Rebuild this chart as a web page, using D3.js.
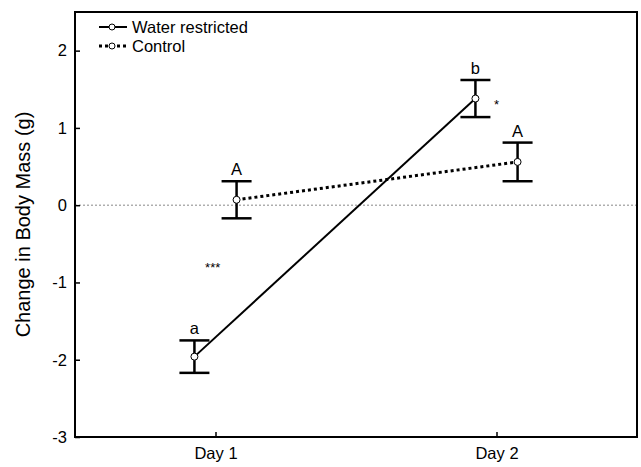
<!DOCTYPE html>
<meta charset="utf-8">
<title>Change in Body Mass</title>
<script src="https://cdn.jsdelivr.net/npm/d3@7"></script>
<style>
  body { margin: 0; background: #fff; }
  text { font-family: "Liberation Sans", Arial, sans-serif; fill: #000; }
</style>
<body>
<svg></svg>
<script>
// data
var days = ["Day 1", "Day 2"];
var waterMean = [-1.96, 1.38];
var waterSE = [0.21, 0.24];
var waterLetters = ["a", "b"];
var controlMean = [0.07, 0.56];
var controlSE = [0.24, 0.25];
var controlLetters = ["A", "A"];
var yTicks = [-3, -2, -1, 0, 1, 2];

var width = 641,
    height = 467;

var margin = {top: 12, right: 4, bottom: 30, left: 75};

var svg = d3.select("svg")
    .attr("width", width)
    .attr("height", height);

var x = d3.scaleLinear()
    .domain([0.5, 2.5])
    .range([margin.left, width - margin.right]);

var y = d3.scaleLinear()
    .domain([-3, 2.5])
    .range([height - margin.bottom, margin.top]);

var off = 0.075; // horizontal dodge between groups

// zero reference line
svg.append("line")
    .attr("x1", x(0.5)).attr("x2", x(2.5))
    .attr("y1", y(0)).attr("y2", y(0))
    .attr("stroke", "#888")
    .attr("stroke-width", 1)
    .attr("stroke-dasharray", "2,2");

// axes (ticks point inward)
svg.append("g")
    .attr("transform", "translate(" + x(0.5) + ",0)")
    .call(d3.axisRight(y).tickValues(yTicks).tickSize(5).tickFormat(String))
    .call(function(g) {
      g.select(".domain").remove();
      g.selectAll(".tick line").attr("stroke-width", 1.5);
      g.selectAll(".tick text")
        .attr("x", -8)
        .attr("text-anchor", "end")
        .attr("font-size", 16.5)
        .attr("font-family", null);
    });

svg.append("g")
    .attr("transform", "translate(0," + y(-3) + ")")
    .call(d3.axisTop(x).tickValues([1, 2]).tickSize(5).tickFormat(function(d) { return days[d - 1]; }))
    .call(function(g) {
      g.select(".domain").remove();
      g.selectAll(".tick line").attr("stroke-width", 1.5);
      g.selectAll(".tick text")
        .attr("y", 22)
        .attr("font-size", 16.5)
        .attr("font-family", null);
    });

// frame
svg.append("rect")
    .attr("x", x(0.5)).attr("y", y(2.5))
    .attr("width", x(2.5) - x(0.5))
    .attr("height", y(-3) - y(2.5))
    .attr("fill", "none")
    .attr("stroke", "#000")
    .attr("stroke-width", 2);

svg.append("text")
    .attr("transform", "translate(30," + ((y(2.5) + y(-3)) / 2) + ") rotate(-90)")
    .attr("text-anchor", "middle")
    .attr("font-size", 20)
    .text("Change in Body Mass (g)");

function drawSeries(means, ses, letters, dx, dash) {
  var pts = means.map(function(m, i) { return {x: i + 1 + dx, m: m, se: ses[i], l: letters[i]}; });

  svg.append("path")
      .datum(pts)
      .attr("fill", "none")
      .attr("stroke", "#000")
      .attr("stroke-width", dash ? 3 : 2)
      .attr("stroke-dasharray", dash)
      .attr("d", d3.line().x(function(d) { return x(d.x); }).y(function(d) { return y(d.m); }));

  var g = svg.append("g").selectAll("g").data(pts).enter().append("g");

  g.append("line")
      .attr("x1", function(d) { return x(d.x); })
      .attr("x2", function(d) { return x(d.x); })
      .attr("y1", function(d) { return y(d.m - d.se); })
      .attr("y2", function(d) { return y(d.m + d.se); })
      .attr("stroke", "#000").attr("stroke-width", 2.5);

  [-1, 1].forEach(function(s) {
    g.append("line")
        .attr("x1", function(d) { return x(d.x) - 15; })
        .attr("x2", function(d) { return x(d.x) + 15; })
        .attr("y1", function(d) { return y(d.m + s * d.se); })
        .attr("y2", function(d) { return y(d.m + s * d.se); })
        .attr("stroke", "#000").attr("stroke-width", 2.5);
  });

  g.append("circle")
      .attr("cx", function(d) { return x(d.x); })
      .attr("cy", function(d) { return y(d.m); })
      .attr("r", 3.5)
      .attr("fill", "#fff")
      .attr("stroke", "#000")
      .attr("stroke-width", 1);

  g.append("text")
      .attr("x", function(d) { return x(d.x); })
      .attr("y", function(d) { return y(d.m + d.se) - 6; })
      .attr("text-anchor", "middle")
      .attr("font-size", 16.5)
      .text(function(d) { return d.l; });
}

drawSeries(waterMean, waterSE, waterLetters, -off, null);
drawSeries(controlMean, controlSE, controlLetters, off, "3,3");

// significance marks
svg.append("text")
    .attr("x", x(0.99)).attr("y", y(-0.86))
    .attr("text-anchor", "middle")
    .attr("font-size", 13)
    .text("***");
svg.append("text")
    .attr("x", x(2.0)).attr("y", y(1.24))
    .attr("text-anchor", "middle")
    .attr("font-size", 13)
    .text("*");

// legend
var legend = svg.append("g").attr("transform", "translate(99,27)");
[["Water restricted", null], ["Control", "3,3"]].forEach(function(item, i) {
  var row = legend.append("g").attr("transform", "translate(0," + (i * 19) + ")");
  row.append("line")
      .attr("x1", 0).attr("x2", 28)
      .attr("stroke", "#000")
      .attr("stroke-width", item[1] ? 3 : 2)
      .attr("stroke-dasharray", item[1]);
  row.append("circle")
      .attr("cx", 13).attr("r", 3)
      .attr("fill", "#fff").attr("stroke", "#000");
  row.append("text")
      .attr("x", 33).attr("dy", "0.35em")
      .attr("font-size", 16.5)
      .text(item[0]);
});
</script>
</body>
